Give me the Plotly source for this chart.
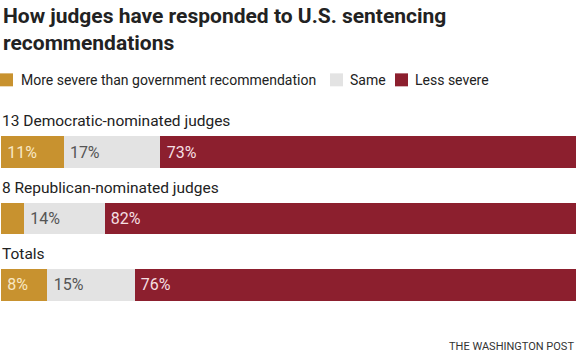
import plotly.graph_objects as go

categories = ["13 Democratic-nominated judges", "8 Republican-nominated judges", "Totals"]
more_severe = [11, 4, 8]
same = [17, 14, 15]
less_severe = [73, 82, 76]
more_labels = ["11%", "", "8%"]
same_labels = ["17%", "14%", "15%"]
less_labels = ["73%", "82%", "76%"]

series_names = ["More severe than government recommendation", "Same", "Less severe"]
colors = ["#c8922f", "#e3e3e3", "#8c1f2e"]
text_colors = ["#f8e8c4", "#555555", "#f5dfe2"]
title_text = "How judges have responded to U.S. sentencing<br>recommendations"
source = "THE WASHINGTON POST"

totals = [a + b + c for a, b, c in zip(more_severe, same, less_severe)]
def share(vals):
    return [v / t * 100 for v, t in zip(vals, totals)]

FONT = "Roboto"
PLOT_TOP, PLOT_H = 118.75, 199.5
def py(pix):
    return (PLOT_TOP + PLOT_H - pix) / PLOT_H

fig = go.Figure()
for name, vals, labels, col, tcol in zip(series_names, [more_severe, same, less_severe],
                                         [more_labels, same_labels, less_labels], colors, text_colors):
    fig.add_trace(go.Bar(
        y=categories, x=share(vals), orientation="h", name=name,
        marker=dict(color=col, line=dict(width=0)),
        text=["\u2009" + l if l else "" for l in labels], textposition="inside",
        insidetextanchor="start", textangle=0,
        textfont=dict(family=FONT, size=16, color=tcol),
        hoverinfo="skip", showlegend=False,
    ))

annotations = []
for cat in categories:
    annotations.append(dict(x=0, xref="paper", y=cat, yref="y", yshift=31,
                            text=cat, showarrow=False, xanchor="left", yanchor="middle",
                            xshift=-1, font=dict(family=FONT, size=15.5, color="#222222")))

# title
annotations.append(dict(x=0, xref="paper", y=py(1), yref="paper", xshift=0,
                        text="<b>" + title_text.replace("<br>", "</b><br><b>") + "</b>",
                        showarrow=False, xanchor="left", yanchor="top", align="left",
                        font=dict(family=FONT, size=21, color="#222222")))

# legend (manual)
legend_items = [(0, 19), (330, 348), (395, 413)]
shapes = []
for (sx, tx), name, col in zip(legend_items, series_names, colors):
    shapes.append(dict(type="rect", xref="paper", yref="paper",
                       x0=(sx - 1) / 575, x1=(sx + 12) / 575,
                       y0=py(86), y1=py(73),
                       fillcolor=col, line=dict(width=0)))
    annotations.append(dict(x=(tx - 1) / 575, xref="paper", y=py(79.5), yref="paper",
                            text=name, showarrow=False, xanchor="left", yanchor="middle",
                            font=dict(family=FONT, size=14, color="#222222")))

annotations.append(dict(x=1, xref="paper", y=py(347), yref="paper",
                        text=source, showarrow=False, xanchor="right", yanchor="middle",
                        font=dict(family=FONT, size=11, color="#333333")))

fig.update_layout(
    width=578, height=358,
    margin=dict(l=1, r=2, t=PLOT_TOP, b=358 - PLOT_TOP - PLOT_H, pad=0),
    barmode="stack", bargap=0.52,
    paper_bgcolor="white", plot_bgcolor="white",
    xaxis=dict(range=[0, 100], visible=False, fixedrange=True),
    yaxis=dict(range=[2.5, -0.5], visible=False, fixedrange=True, type="category",
               categoryorder="array", categoryarray=categories),
    annotations=annotations, shapes=shapes,
    uniformtext=dict(mode="show", minsize=10),
)

fig.write_html("out.html", config={"displayModeBar": False},
               post_script="document.body.style.margin='0';")
